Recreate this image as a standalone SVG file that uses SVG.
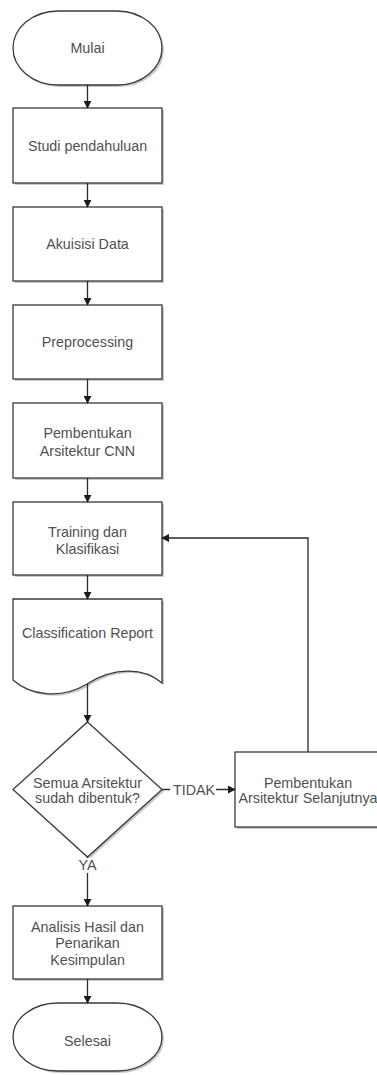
<svg xmlns="http://www.w3.org/2000/svg" width="377" height="1075" viewBox="0 0 377 1075">
<defs>
<marker id="ah" viewBox="0 0 10 10" refX="9" refY="5" markerWidth="8" markerHeight="8" markerUnits="userSpaceOnUse" orient="auto">
<path d="M0,0 L10,5 L0,10 Z" fill="#1a1a1a"/>
</marker>
</defs>
<style>
.s{fill:#fff;stroke:#3a3a3a;stroke-width:1.3}
.sh{fill:#9a9a9a;opacity:0.55;stroke:none}
.t{font-family:"Liberation Sans",Arial,sans-serif;font-size:14.3px;fill:#505050;text-anchor:middle}
.c{fill:none;stroke:#2a2a2a;stroke-width:1.3}
.lb{fill:#fff;stroke:none}
</style>
<rect width="377" height="1075" fill="#fff"/>
<g id="mulai">
<rect class="sh" x="15" y="13" width="149" height="74" rx="45" ry="37"/>
<rect class="s" x="13" y="11" width="149" height="74" rx="45" ry="37"/>
<text class="t" x="87.5" y="53">Mulai</text>
</g>
<g id="studi">
<rect class="sh" x="15" y="110" width="149" height="75"/>
<rect class="s" x="13" y="108" width="149" height="75"/>
<text class="t" x="87.5" y="151">Studi pendahuluan</text>
</g>
<g id="akuisisi">
<rect class="sh" x="15" y="209" width="149" height="74"/>
<rect class="s" x="13" y="207" width="149" height="74"/>
<text class="t" x="87.5" y="249">Akuisisi Data</text>
</g>
<g id="preprocessing">
<rect class="sh" x="15" y="307" width="149" height="74"/>
<rect class="s" x="13" y="305" width="149" height="74"/>
<text class="t" x="87.5" y="347">Preprocessing</text>
</g>
<g id="arsitektur-cnn">
<rect class="sh" x="15" y="405" width="149" height="75"/>
<rect class="s" x="13" y="403" width="149" height="75"/>
<text class="t" x="87.5" y="438">Pembentukan</text>
<text class="t" x="87.5" y="456">Arsitektur CNN</text>
</g>
<g id="training">
<rect class="sh" x="15" y="504" width="149" height="73"/>
<rect class="s" x="13" y="502" width="149" height="73"/>
<text class="t" x="87.5" y="537">Training dan</text>
<text class="t" x="87.5" y="554">Klasifikasi</text>
</g>
<g id="report">
<path class="sh" d="M15,601 H164 V685 C147,670 117,668 89,686 C62,702 32,697 15,682 Z"/>
<path class="s" d="M13,599 H162 V683 C145,668 115,666 87,684 C60,700 30,695 13,680 Z"/>
<text class="t" x="87.5" y="638">Classification Report</text>
</g>
<g id="keputusan">
<path class="sh" d="M89.5,724 L164,791.5 L89.5,859 L15,791.5 Z"/>
<path class="s" d="M87.5,722 L162,789.5 L87.5,857 L13,789.5 Z"/>
<text class="t" x="87.5" y="788">Semua Arsitektur</text>
<text class="t" x="87.5" y="803">sudah dibentuk?</text>
</g>
<g id="arsitektur-selanjutnya">
<rect class="sh" x="237" y="754" width="146" height="75"/>
<rect class="s" x="235" y="752" width="146" height="75"/>
<text class="t" x="308" y="788">Pembentukan</text>
<text class="t" x="308" y="803">Arsitektur Selanjutnya</text>
</g>
<g id="analisis">
<rect class="sh" x="15" y="908" width="149" height="73"/>
<rect class="s" x="13" y="906" width="149" height="73"/>
<text class="t" x="87.5" y="932">Analisis Hasil dan</text>
<text class="t" x="87.5" y="948">Penarikan</text>
<text class="t" x="87.5" y="965">Kesimpulan</text>
</g>
<g id="selesai">
<rect class="sh" x="15" y="1005" width="149" height="68" rx="45" ry="34"/>
<rect class="s" x="13" y="1003" width="149" height="68" rx="45" ry="34"/>
<text class="t" x="87.5" y="1046">Selesai</text>
</g>
<g id="connectors">
<line class="c" x1="87.5" y1="85" x2="87.5" y2="108" marker-end="url(#ah)"/>
<line class="c" x1="87.5" y1="183" x2="87.5" y2="207" marker-end="url(#ah)"/>
<line class="c" x1="87.5" y1="281" x2="87.5" y2="305" marker-end="url(#ah)"/>
<line class="c" x1="87.5" y1="379" x2="87.5" y2="403" marker-end="url(#ah)"/>
<line class="c" x1="87.5" y1="478" x2="87.5" y2="502" marker-end="url(#ah)"/>
<line class="c" x1="87.5" y1="575" x2="87.5" y2="599" marker-end="url(#ah)"/>
<line class="c" x1="87.5" y1="684" x2="87.5" y2="722" marker-end="url(#ah)"/>
<line class="c" x1="162" y1="789.5" x2="235" y2="789.5" marker-end="url(#ah)"/>
<rect class="lb" x="170" y="782" width="46" height="15"/>
<text class="t" x="194" y="794.5">TIDAK</text>
<polyline class="c" points="308,752 308,538 162,538" marker-end="url(#ah)"/>
<line class="c" x1="87.5" y1="857" x2="87.5" y2="906" marker-end="url(#ah)"/>
<rect class="lb" x="78" y="858" width="20" height="15"/>
<text class="t" x="87.5" y="870">YA</text>
<line class="c" x1="87.5" y1="979" x2="87.5" y2="1003" marker-end="url(#ah)"/>
</g>
</svg>
